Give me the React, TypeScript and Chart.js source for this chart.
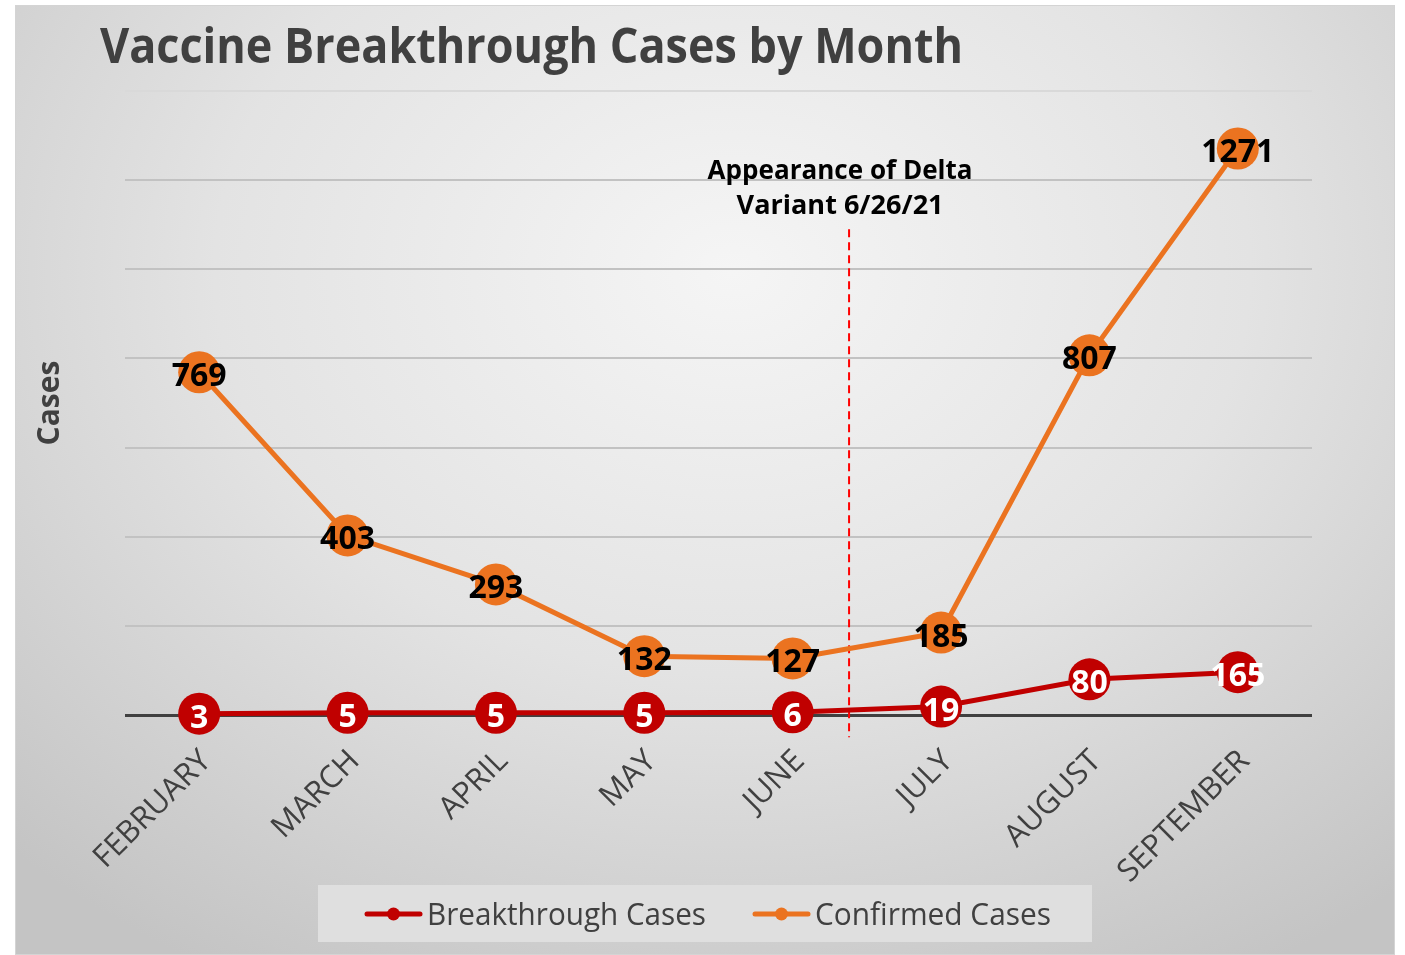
import React, { useEffect, useRef } from "react";
import { Chart, registerables } from "chart.js";

Chart.register(...registerables);

// ---------- data ----------
const months = ["FEBRUARY", "MARCH", "APRIL", "MAY", "JUNE", "JULY", "AUGUST", "SEPTEMBER"];
const confirmedCases = [769, 403, 293, 132, 127, 185, 807, 1271];
const confirmedLabels = ["769", "403", "293", "132", "127", "185", "807", "1271"];
// breakthrough points as drawn in the picture (the last one sits lower than its label)
const breakthroughCases = [3, 5, 5, 5, 6, 19, 80, 96];
const breakthroughLabels = ["3", "5", "5", "5", "6", "19", "80", "165"];
const yMin = 0;
const yMax = 1400;
const yStep = 200;
const titleText = "Vaccine Breakthrough Cases by Month";
const yAxisTitle = "Cases";
const seriesNames = ["Breakthrough Cases", "Confirmed Cases"];
const deltaIndex = 4.38; // between JUNE and JULY
const deltaRange = [-50, 1090];
const deltaLines = ["Appearance of Delta", "Variant 6/26/21"];

// ---------- styles ----------
const FONT = '"Open Sans", "Noto Sans", sans-serif';
const RED = "#C00000";
const ORANGE = "#EB7320";
const TEXT = "#404040";

function fitText(ctx: CanvasRenderingContext2D, text: string, x: number, y: number, width: number, align: CanvasTextAlign) {
  const w = ctx.measureText(text).width;
  const sx = w > 0 ? width / w : 1;
  ctx.save();
  ctx.translate(x, y);
  ctx.scale(sx, 1);
  ctx.textAlign = align;
  ctx.fillText(text, 0, 0);
  ctx.restore();
}

const deltaLinePlugin = {
  id: "deltaLine",
  beforeDatasetsDraw(chart: any) {
    const ctx = chart.ctx as CanvasRenderingContext2D;
    const xs = chart.scales.x;
    const ys = chart.scales.y;
    const x = xs.getPixelForValue(deltaIndex);
    const y1 = ys.getPixelForValue(deltaRange[1]);
    const y2 = ys.getPixelForValue(deltaRange[0]);
    ctx.save();
    ctx.strokeStyle = "#FF0000";
    ctx.lineWidth = 2;
    ctx.setLineDash([8, 5]);
    ctx.beginPath();
    ctx.moveTo(x, y1);
    ctx.lineTo(x, y2);
    ctx.stroke();
    ctx.restore();
  },
  afterDatasetsDraw(chart: any) {
    const ctx = chart.ctx as CanvasRenderingContext2D;
    const xs = chart.scales.x;
    const ys = chart.scales.y;
    const x = xs.getPixelForValue(deltaIndex) - 9;
    const top = ys.getPixelForValue(deltaRange[1]);
    ctx.save();
    ctx.fillStyle = "#000";
    ctx.font = `bold 27px ${FONT}`;
    ctx.textBaseline = "alphabetic";
    fitText(ctx, deltaLines[0], x, top - 50, 265, "center");
    fitText(ctx, deltaLines[1], x, top - 15, 207, "center");
    ctx.restore();
  },
};

const dataLabelPlugin = {
  id: "dataLabels",
  afterDatasetsDraw(chart: any) {
    const ctx = chart.ctx as CanvasRenderingContext2D;
    const labelSets = [breakthroughLabels, confirmedLabels];
    const colors = ["#FFFFFF", "#000000"];
    ctx.save();
    ctx.font = `bold 32px ${FONT}`;
    ctx.textAlign = "center";
    ctx.textBaseline = "alphabetic";
    chart.data.datasets.forEach((_ds: any, i: number) => {
      const meta = chart.getDatasetMeta(i);
      ctx.fillStyle = colors[i];
      meta.data.forEach((pt: any, j: number) => {
        ctx.fillText(labelSets[i][j], pt.x, pt.y + 14);
      });
    });
    ctx.restore();
  },
};

const decorPlugin = {
  id: "decor",
  afterDraw(chart: any) {
    const ctx = chart.ctx as CanvasRenderingContext2D;
    // title
    ctx.save();
    ctx.fillStyle = TEXT;
    ctx.font = `bold 48px ${FONT}`;
    ctx.textBaseline = "alphabetic";
    fitText(ctx, titleText, 85, 58, 863, "left");
    ctx.restore();

    // legend
    ctx.save();
    ctx.fillStyle = "#DFDFDF";
    ctx.fillRect(303, 880, 774, 57);
    const items = [
      { name: chart.data.datasets[0].label, color: RED, x: 352, textW: 279 },
      { name: chart.data.datasets[1].label, color: ORANGE, x: 740, textW: 236 },
    ];
    const cy = 909;
    items.forEach((it) => {
      ctx.strokeStyle = it.color;
      ctx.lineWidth = 5;
      ctx.lineCap = "round";
      ctx.beginPath();
      ctx.moveTo(it.x, cy);
      ctx.lineTo(it.x + 53, cy);
      ctx.stroke();
      ctx.fillStyle = it.color;
      ctx.beginPath();
      ctx.arc(it.x + 26.5, cy, 6.5, 0, Math.PI * 2);
      ctx.fill();
      ctx.fillStyle = TEXT;
      ctx.font = `31px ${FONT}`;
      ctx.textBaseline = "alphabetic";
      fitText(ctx, it.name, it.x + 60, cy + 11, it.textW, "left");
    });
    ctx.restore();
  },
};

export default function App() {
  const ref = useRef<HTMLCanvasElement>(null);

  useEffect(() => {
    if (!ref.current) return;
    const chart = new Chart(ref.current, {
      type: "line",
      data: {
        labels: months,
        datasets: [
          {
            label: seriesNames[0],
            data: breakthroughCases,
            borderColor: RED,
            backgroundColor: RED,
            borderWidth: 5,
            pointRadius: 21,
            pointHoverRadius: 21,
            pointBorderWidth: 0,
            pointBackgroundColor: RED,
            tension: 0,
            clip: false,
          } as any,
          {
            label: seriesNames[1],
            data: confirmedCases,
            borderColor: ORANGE,
            backgroundColor: ORANGE,
            borderWidth: 5,
            pointRadius: 21,
            pointHoverRadius: 21,
            pointBorderWidth: 0,
            pointBackgroundColor: ORANGE,
            tension: 0,
            clip: false,
          } as any,
        ],
      },
      options: {
        responsive: false,
        animation: false,
        devicePixelRatio: 1,
        layout: { padding: { left: 17, top: 86, right: 83, bottom: 0 } },
        plugins: {
          legend: { display: false },
          title: { display: false },
          tooltip: { enabled: false },
        },
        scales: {
          x: {
            offset: true,
            grid: { display: false, drawTicks: false },
            border: { display: false },
            ticks: {
              autoSkip: false,
              maxRotation: 45,
              minRotation: 45,
              padding: 28,
              labelOffset: 7,
              color: TEXT,
              font: { family: FONT, size: 31 },
            },
            afterFit(scale: any) {
              scale.height = 240;
            },
          },
          y: {
            min: yMin,
            max: yMax,
            ticks: { display: false, stepSize: yStep },
            border: { display: false },
            grid: {
              drawTicks: false,
              color: (c: any) => (c.tick && c.tick.value === 0 ? "#404040" : c.tick && c.tick.value === yMax ? "#D9D9D9" : "#C2C2C2"),
              lineWidth: (c: any) => (c.tick && c.tick.value === 0 ? 3 : 2),
            },
            title: {
              display: true,
              text: yAxisTitle,
              color: TEXT,
              font: { family: FONT, size: 30, weight: "bold" },
              padding: { top: 0, bottom: 0 },
            },
            afterFit(scale: any) {
              scale.width = 93;
            },
          },
        },
      },
      plugins: [deltaLinePlugin, dataLabelPlugin, decorPlugin],
    });
    return () => chart.destroy();
  }, []);

  return (
    <div
      style={{
        position: "absolute",
        left: 15,
        top: 5,
        width: 1380,
        height: 950,
        background:
          "radial-gradient(ellipse 75% 85% at 52% 28%, #f5f5f5 0%, #e3e3e3 50%, #c4c4c4 100%)",
        boxShadow: "inset 0 0 0 1px #d4d4d4",
      }}
    >
      <canvas ref={ref} width={1380} height={950} style={{ display: "block" }} />
    </div>
  );
}
